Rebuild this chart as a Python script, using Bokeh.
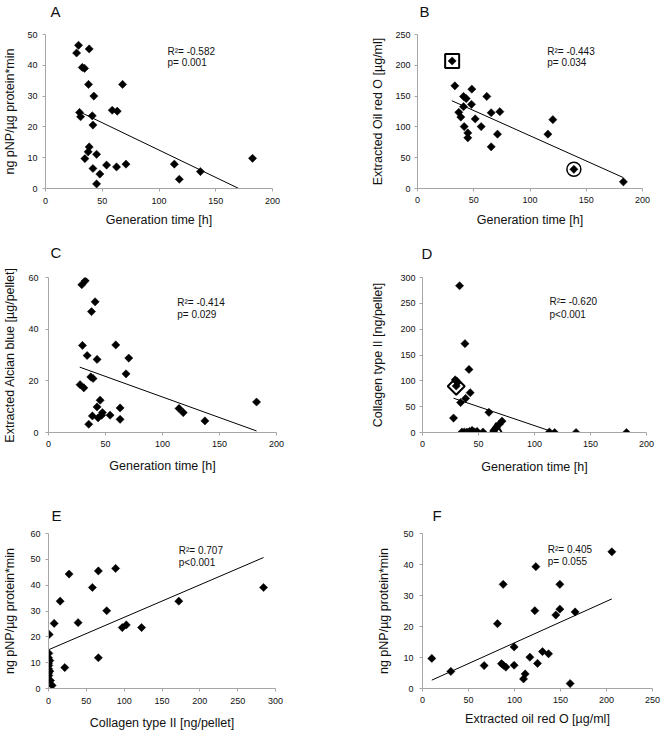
import numpy as np
from bokeh.plotting import figure
from bokeh.layouts import column, row
from bokeh.models import Range1d, FixedTicker, Label, Title
from bokeh.embed import file_html
from bokeh.resources import INLINE

# ---------------- data ----------------
# A: generation time [h] vs ng pNP/ug protein*min
a_gen = [27.4, 29.1, 38.5, 32.4, 34.4, 37.9, 42.6, 67.9, 30.0, 30.9, 41.2, 41.8, 58.8, 63.2,
         38.5, 37.6, 34.7, 45.0, 41.8, 47.9, 45.0, 53.8, 62.6, 70.9, 113.5, 117.9, 136.5, 182.4]
a_pnp = [44.0, 46.5, 45.3, 39.3, 39.0, 33.8, 30.0, 33.8, 24.7, 23.3, 23.6, 20.6, 25.4, 25.1,
         13.5, 11.9, 9.7, 11.1, 6.5, 4.7, 1.5, 7.6, 7.0, 7.9, 7.9, 3.0, 5.5, 9.8]
a_trend_x = [30.0, 170.3]
a_trend_y = [24.9, 0.0]

# B: generation time vs extracted Oil red O
b_gen = [30.8, 33.2, 48.3, 40.9, 43.3, 61.6, 48.0, 40.9, 36.7, 38.5, 65.5, 73.2, 51.3, 120.3,
         41.5, 56.6, 44.7, 44.7, 71.1, 115.9, 65.5, 139.0, 183.0]
b_oil = [207, 166.7, 161.3, 149.5, 146, 149.5, 136.6, 132.8, 123.7, 116, 123, 124.7, 113, 111.8,
         100.5, 100.5, 90.3, 82.3, 88.2, 88.2, 67.7, 31.2, 10.8]
b_trend_x = [30.5, 183.0]
b_trend_y = [142.5, 17.7]
b_box_x, b_box_y = [30.8], [207]
b_ring_x, b_ring_y = [139.0], [31.2]

# C: generation time vs extracted Alcian blue
c_gen = [29.2, 32.2, 40.9, 37.7, 29.8, 59.0, 33.9, 42.6, 70.4, 68.0, 27.7, 31.0, 37.1, 39.1,
         45.3, 42.6, 47.3, 38.5, 43.5, 46.7, 35.3, 54.0, 62.8, 62.8, 114.5, 118.2, 137.2, 182.5]
c_alc = [57.2, 58.7, 50.6, 46.8, 33.7, 33.9, 29.8, 28.3, 28.8, 22.7, 18.5, 17.3, 21.5, 20.9,
         12.5, 9.9, 7.7, 6.4, 5.7, 6.7, 3.2, 6.7, 9.5, 5.1, 9.3, 7.7, 4.5, 11.8]
c_trend_x = [27.4, 182.5]
c_trend_y = [25.3, 0.6]

# D: generation time vs collagen type II
d_gen = [33.1, 37.9, 41.5, 29.2, 31.3, 30.1, 42.6, 38.5, 34.0, 27.7, 59.3, 35.2, 37.3, 39.6,
         42.0, 44.3, 46.4, 48.7, 54.0, 63.5, 64.5, 66.0, 68.5, 71.0, 113.3, 118.0, 137.1, 182.1]
d_col = [284, 172, 122, 102, 97, 90, 77, 66, 58, 28, 39, 1, 1, 1,
         2, 4, 1, 2, 1, 3, 6, 10, 16, 22, 1, 0, 0, 0]
d_trend_x = [27.7, 114.0]
d_trend_y = [66.4, 3.0]
d_dia_x, d_dia_y = [30.1], [89.4]
d_tri_x, d_tri_y = [65.8], [0.6]

# E: collagen type II vs ng pNP
e_col = [27.2, 65.9, 88.7, 58.0, 284.2, 15.4, 172.2, 76.9, 7.5, 39.1, 102.8, 97.5, 123.0, 0.9,
         65.9, 21.5, 0.4, 0.0, 1.7, 0.0, 0.4, 0.0, 1.7, 0.0, 0.4, 2.6, 4.8]
e_pnp = [44.3, 45.5, 46.5, 39.1, 39.1, 33.8, 33.8, 30.1, 25.2, 25.5, 24.6, 23.6, 23.6, 20.9,
         11.9, 8.1, 13.6, 11.9, 10.8, 9.8, 8.9, 7.6, 6.7, 5.9, 5.0, 3.1, 1.2]
e_trend_x = [0.9, 284.2]
e_trend_y = [15.1, 50.7]

# F: extracted oil red O vs ng pNP
f_oil = [205.8, 123.2, 87.7, 149.3, 122.1, 149.3, 144.9, 165.9, 81.5, 99.6, 130.4, 137.0, 116.7,
         10.1, 85.9, 88.0, 90.6, 125.0, 99.6, 67.0, 30.8, 111.6, 109.8, 160.5]
f_pnp = [44.1, 39.3, 33.6, 33.6, 25.1, 25.6, 23.7, 24.7, 20.9, 13.4, 11.9, 11.2, 10.1,
         9.7, 8.0, 7.5, 6.9, 8.1, 7.5, 7.4, 5.5, 4.7, 3.1, 1.6]
f_trend_x = [10.1, 205.8]
f_trend_y = [2.7, 28.9]

gen_ticks = [0, 50, 100, 150, 200]
pnp_ticks_a = [0, 10, 20, 30, 40, 50]
oil_ticks = [0, 50, 100, 150, 200, 250]
alc_ticks = [0, 20, 40, 60]
col_ticks = [0, 50, 100, 150, 200, 250, 300]
pnp_ticks_e = [0, 10, 20, 30, 40, 50, 60]
pnp_ticks_f = [0, 10, 20, 30, 40, 50]

stats = {
    "A": ("R\u00b2= -0.582", "p= 0.001"),
    "B": ("R\u00b2= -0.443", "p= 0.034"),
    "C": ("R\u00b2= -0.414", "p= 0.029"),
    "D": ("R\u00b2= -0.620", "p<0.001"),
    "E": ("R\u00b2= 0.707", "p<0.001"),
    "F": ("R\u00b2= 0.405", "p= 0.055"),
}

FONT = "Liberation Sans"
AXIS_GREY = "#a6a6a6"


def panel(letter, xs, ys, tx, ty, xr, yr, xticks, yticks, xlabel, ylabel,
          size, borders, stand, ann, letter_pos):
    w, h = size
    bl, br, bt, bb = borders
    p = figure(width=w, height=h, x_range=Range1d(*xr), y_range=Range1d(*yr),
               output_backend="svg", toolbar_location=None,
               min_border_left=bl, min_border_right=br,
               min_border_top=bt, min_border_bottom=bb)
    p.outline_line_color = None
    p.grid.visible = False
    p.background_fill_color = "white"
    p.border_fill_color = "white"

    xs_, xa_, ys_, ya_ = stand
    for ax, ticks, lab, ms, las in ((p.xaxis[0], xticks, xlabel, xs_, xa_),
                                    (p.yaxis[0], yticks, ylabel, ys_, ya_)):
        ax.ticker = FixedTicker(ticks=ticks)
        ax.minor_tick_line_color = None
        ax.major_tick_in = 0
        ax.major_tick_out = 3
        ax.axis_line_color = AXIS_GREY
        ax.major_tick_line_color = AXIS_GREY
        ax.major_label_text_font = FONT
        ax.major_label_text_font_size = "9px"
        ax.major_label_text_color = "#111111"
        ax.major_label_standoff = ms
        ax.axis_label = lab
        ax.axis_label_text_font = FONT
        ax.axis_label_text_font_style = "normal"
        ax.axis_label_text_font_size = "12.5px"
        ax.axis_label_text_color = "#111111"
        ax.axis_label_standoff = las

    p.line(tx, ty, line_color="black", line_width=1)
    p.scatter(xs, ys, marker="square", angle=np.pi / 4, size=5.8,
              fill_color="black", line_color="black", line_width=0.5)

    ax_, ay1, ay2 = ann
    r2, pv = stats[letter]
    for txt, yy in ((r2, ay1), (pv, ay2)):
        p.add_layout(Label(x=ax_, y=yy, text=txt, text_font=FONT,
                           text_font_size="10px", text_color="#111111",
                           text_align="left", text_baseline="middle"))
    off, gap = letter_pos
    # thin spacer between frame and panel letter
    p.add_layout(Title(text=" ", text_font_size="2px", standoff=gap), "above")
    p.title = Title(text=letter, text_font=FONT, text_font_size="15px",
                    text_font_style="normal", text_color="#111111",
                    align="left", offset=off, standoff=0)
    return p


pA = panel("A", a_gen, a_pnp, a_trend_x, a_trend_y, (0, 200), (0, 50), gen_ticks, pnp_ticks_a,
           "Generation time [h]", "ng pNP/\u00b5g protein*min",
           (330, 236), (45, 58, 34, 48), (6, 6, 5, 7), (107.5, 44.5, 40.9), (5, 10.5))
pB = panel("B", b_gen, b_oil, b_trend_x, b_trend_y, (0, 200), (0, 250), gen_ticks, oil_ticks,
           "Generation time [h]", "Extracted Oil red O [\u00b5g/ml]",
           (332, 236), (87, 20, 34, 47), (5, 7, 4, 7), (115.3, 223, 204.8), (2, 10.5))
pB.scatter(b_box_x, b_box_y, marker="square", size=14, fill_color=None,
           line_color="black", line_width=2)
pB.scatter(b_ring_x, b_ring_y, marker="circle", size=14, fill_color=None,
           line_color="black", line_width=1.5)

pC = panel("C", c_gen, c_alc, c_trend_x, c_trend_y, (0, 200), (0, 60), gen_ticks, alc_ticks,
           "Generation time [h]", "Extracted Alcian blue [\u00b5g/pellet]",
           (330, 242), (48, 54, 41, 46), (5, 9, 7, 8), (112.9, 50.4, 45.6), (2, 12.5))
pD = panel("D", d_gen, d_col, d_trend_x, d_trend_y, (0, 200), (0, 300), gen_ticks, col_ticks,
           "Generation time [h]", "Collagen type II [ng/pellet]",
           (332, 242), (92, 16, 41, 44), (5, 10, 4, 12), (113.4, 252.8, 228.7), (-1, 11.5))
pD.scatter(d_dia_x, d_dia_y, marker="square", angle=np.pi / 4, size=12, fill_color=None,
           line_color="black", line_width=2)
pD.scatter(d_tri_x, d_tri_y, marker="triangle", size=16, fill_color=None,
           line_color="black", line_width=2)

pE = panel("E", e_col, e_pnp, e_trend_x, e_trend_y, (0, 300), (0, 60), col_ticks, pnp_ticks_e,
           "Collagen type II [ng/pellet]", "ng pNP/\u00b5g protein*min",
           (330, 255), (48, 55, 55, 45), (6, 9, 5, 10), (172.2, 53.4, 48.9), (3, 5.5))
pF = panel("F", f_oil, f_pnp, f_trend_x, f_trend_y, (0, 250), (0, 50), oil_ticks, pnp_ticks_f,
           "Extracted oil red O [\u00b5g/ml]", "ng pNP/\u00b5g protein*min",
           (332, 255), (92, 10, 55, 44), (5, 6, 6, 9), (136.2, 44.8, 41.0), (10, 5.5))

layout = column(row(pA, pB), row(pC, pD), row(pE, pF))

open("out.html", "w").write(file_html(layout, INLINE))
